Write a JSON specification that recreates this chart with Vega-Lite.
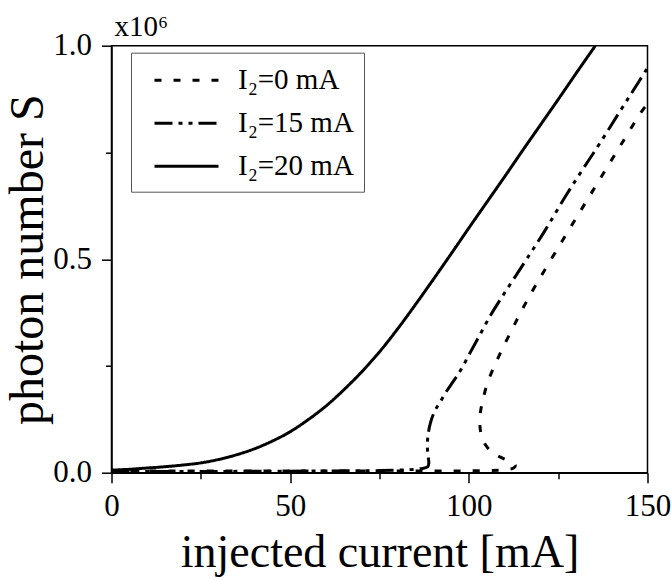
{
  "$schema": "https://vega.github.io/schema/vega-lite/v6.json",
  "width": 536,
  "height": 427,
  "autosize": {"type": "none"},
  "padding": {"left": 111.5, "top": 45.7, "right": 23.5, "bottom": 107.3},
  "background": "white",
  "title": {"text": "x10⁶", "anchor": "start", "frame": "group", "fontSize": 29, "font": "Liberation Serif", "fontWeight": "normal", "baseline": "alphabetic", "offset": -35, "color": "black", "dx": 3},
  "config": {"view": {"stroke": "black", "strokeWidth": 1.5}, "font": "Liberation Serif"},
  "data": {"values": [
    {"series": "I₂=0 mA", "i": 1, "current": 0, "S": 0.004},
    {"series": "I₂=0 mA", "i": 2, "current": 30, "S": 0.004},
    {"series": "I₂=0 mA", "i": 3, "current": 60, "S": 0.004},
    {"series": "I₂=0 mA", "i": 4, "current": 90, "S": 0.004},
    {"series": "I₂=0 mA", "i": 5, "current": 105, "S": 0.005},
    {"series": "I₂=0 mA", "i": 6, "current": 110, "S": 0.007},
    {"series": "I₂=0 mA", "i": 7, "current": 112.5, "S": 0.011},
    {"series": "I₂=0 mA", "i": 8, "current": 113, "S": 0.017},
    {"series": "I₂=0 mA", "i": 9, "current": 112, "S": 0.024},
    {"series": "I₂=0 mA", "i": 10, "current": 110, "S": 0.032},
    {"series": "I₂=0 mA", "i": 11, "current": 107.8, "S": 0.041},
    {"series": "I₂=0 mA", "i": 12, "current": 106, "S": 0.052},
    {"series": "I₂=0 mA", "i": 13, "current": 104.5, "S": 0.067},
    {"series": "I₂=0 mA", "i": 14, "current": 103.5, "S": 0.088},
    {"series": "I₂=0 mA", "i": 15, "current": 103.1, "S": 0.11},
    {"series": "I₂=0 mA", "i": 16, "current": 103.1, "S": 0.13},
    {"series": "I₂=0 mA", "i": 17, "current": 103.4, "S": 0.15},
    {"series": "I₂=0 mA", "i": 18, "current": 104, "S": 0.172},
    {"series": "I₂=0 mA", "i": 19, "current": 105, "S": 0.205},
    {"series": "I₂=0 mA", "i": 20, "current": 106.9, "S": 0.245},
    {"series": "I₂=0 mA", "i": 21, "current": 109.2, "S": 0.287},
    {"series": "I₂=0 mA", "i": 22, "current": 112, "S": 0.334},
    {"series": "I₂=0 mA", "i": 23, "current": 114.8, "S": 0.38},
    {"series": "I₂=0 mA", "i": 24, "current": 118.5, "S": 0.436},
    {"series": "I₂=0 mA", "i": 25, "current": 125, "S": 0.527},
    {"series": "I₂=0 mA", "i": 26, "current": 131.1, "S": 0.611},
    {"series": "I₂=0 mA", "i": 27, "current": 137, "S": 0.692},
    {"series": "I₂=0 mA", "i": 28, "current": 143, "S": 0.774},
    {"series": "I₂=0 mA", "i": 29, "current": 148.8, "S": 0.851},
    {"series": "I₂=0 mA", "i": 30, "current": 150, "S": 0.862},
    {"series": "I₂=15 mA", "i": 1, "current": 0, "S": 0.003},
    {"series": "I₂=15 mA", "i": 2, "current": 30, "S": 0.003},
    {"series": "I₂=15 mA", "i": 3, "current": 60, "S": 0.004},
    {"series": "I₂=15 mA", "i": 4, "current": 75, "S": 0.005},
    {"series": "I₂=15 mA", "i": 5, "current": 83, "S": 0.007},
    {"series": "I₂=15 mA", "i": 6, "current": 87, "S": 0.01},
    {"series": "I₂=15 mA", "i": 7, "current": 88.5, "S": 0.014},
    {"series": "I₂=15 mA", "i": 8, "current": 88.8, "S": 0.022},
    {"series": "I₂=15 mA", "i": 9, "current": 88.5, "S": 0.045},
    {"series": "I₂=15 mA", "i": 10, "current": 88.4, "S": 0.07},
    {"series": "I₂=15 mA", "i": 11, "current": 88.7, "S": 0.095},
    {"series": "I₂=15 mA", "i": 12, "current": 89.3, "S": 0.118},
    {"series": "I₂=15 mA", "i": 13, "current": 90.5, "S": 0.145},
    {"series": "I₂=15 mA", "i": 14, "current": 92, "S": 0.166},
    {"series": "I₂=15 mA", "i": 15, "current": 93.7, "S": 0.19},
    {"series": "I₂=15 mA", "i": 16, "current": 95.5, "S": 0.212},
    {"series": "I₂=15 mA", "i": 17, "current": 97.5, "S": 0.237},
    {"series": "I₂=15 mA", "i": 18, "current": 100.3, "S": 0.28},
    {"series": "I₂=15 mA", "i": 19, "current": 103.1, "S": 0.323},
    {"series": "I₂=15 mA", "i": 20, "current": 105.9, "S": 0.366},
    {"series": "I₂=15 mA", "i": 21, "current": 108.7, "S": 0.404},
    {"series": "I₂=15 mA", "i": 22, "current": 117.1, "S": 0.512},
    {"series": "I₂=15 mA", "i": 23, "current": 121.3, "S": 0.567},
    {"series": "I₂=15 mA", "i": 24, "current": 127.4, "S": 0.652},
    {"series": "I₂=15 mA", "i": 25, "current": 132, "S": 0.712},
    {"series": "I₂=15 mA", "i": 26, "current": 136.7, "S": 0.772},
    {"series": "I₂=15 mA", "i": 27, "current": 142.8, "S": 0.853},
    {"series": "I₂=15 mA", "i": 28, "current": 146, "S": 0.895},
    {"series": "I₂=15 mA", "i": 29, "current": 150, "S": 0.948},
    {"series": "I₂=20 mA", "i": 1, "current": 0, "S": 0.006},
    {"series": "I₂=20 mA", "i": 2, "current": 5, "S": 0.008},
    {"series": "I₂=20 mA", "i": 3, "current": 10, "S": 0.011},
    {"series": "I₂=20 mA", "i": 4, "current": 15, "S": 0.014},
    {"series": "I₂=20 mA", "i": 5, "current": 20, "S": 0.018},
    {"series": "I₂=20 mA", "i": 6, "current": 25, "S": 0.023},
    {"series": "I₂=20 mA", "i": 7, "current": 30, "S": 0.031},
    {"series": "I₂=20 mA", "i": 8, "current": 35, "S": 0.042},
    {"series": "I₂=20 mA", "i": 9, "current": 40, "S": 0.056},
    {"series": "I₂=20 mA", "i": 10, "current": 45, "S": 0.074},
    {"series": "I₂=20 mA", "i": 11, "current": 50, "S": 0.096},
    {"series": "I₂=20 mA", "i": 12, "current": 55, "S": 0.124},
    {"series": "I₂=20 mA", "i": 13, "current": 60, "S": 0.156},
    {"series": "I₂=20 mA", "i": 14, "current": 65, "S": 0.194},
    {"series": "I₂=20 mA", "i": 15, "current": 70, "S": 0.236},
    {"series": "I₂=20 mA", "i": 16, "current": 75, "S": 0.283},
    {"series": "I₂=20 mA", "i": 17, "current": 80, "S": 0.336},
    {"series": "I₂=20 mA", "i": 18, "current": 85, "S": 0.393},
    {"series": "I₂=20 mA", "i": 19, "current": 90, "S": 0.452},
    {"series": "I₂=20 mA", "i": 20, "current": 95, "S": 0.512},
    {"series": "I₂=20 mA", "i": 21, "current": 100, "S": 0.573},
    {"series": "I₂=20 mA", "i": 22, "current": 105, "S": 0.633},
    {"series": "I₂=20 mA", "i": 23, "current": 110, "S": 0.693},
    {"series": "I₂=20 mA", "i": 24, "current": 115, "S": 0.754},
    {"series": "I₂=20 mA", "i": 25, "current": 120, "S": 0.814},
    {"series": "I₂=20 mA", "i": 26, "current": 125, "S": 0.874},
    {"series": "I₂=20 mA", "i": 27, "current": 130, "S": 0.935},
    {"series": "I₂=20 mA", "i": 28, "current": 135.4, "S": 1.0}
  ]},
  "mark": {"type": "line", "interpolate": "catmull-rom", "strokeWidth": 3, "color": "black", "clip": true},
  "encoding": {
    "x": {
      "field": "current", "type": "quantitative",
      "scale": {"domain": [0, 150], "nice": false, "zero": false},
      "title": "injected current [mA]",
      "axis": {
        "values": [0, 25, 50, 75, 100, 125, 150],
        "labelExpr": "datum.value % 50 === 0 ? datum.label : ''",
        "tickSize": {"condition": {"test": "datum.value % 50 === 0", "value": 10}, "value": 6},
        "grid": false, "domainColor": "black", "domainWidth": 1.5,
        "tickColor": "black", "tickWidth": 1.5,
        "labelFont": "Liberation Serif", "labelFontSize": 31, "labelColor": "black",
        "labelPadding": 9, "labelFlush": false, "labelOverlap": false,
        "titleFont": "Liberation Serif", "titleFontSize": 46, "titleFontWeight": "normal",
        "titleColor": "black", "titlePadding": 9
      }
    },
    "y": {
      "field": "S", "type": "quantitative",
      "scale": {"domain": [0, 1], "nice": false, "zero": false},
      "title": "photon number S",
      "axis": {
        "values": [0, 0.25, 0.5, 0.75, 1],
        "format": ".1f",
        "labelExpr": "(datum.value === 0.25 || datum.value === 0.75) ? '' : datum.label",
        "tickSize": {"condition": {"test": "datum.value === 0.25 || datum.value === 0.75", "value": 6}, "value": 10},
        "grid": false, "domainColor": "black", "domainWidth": 1.5,
        "tickColor": "black", "tickWidth": 1.5,
        "labelFont": "Liberation Serif", "labelFontSize": 31, "labelColor": "black",
        "labelPadding": 10, "labelFlush": false, "labelOverlap": false,
        "titleFont": "Liberation Serif", "titleFontSize": 48, "titleFontWeight": "normal",
        "titleColor": "black", "titlePadding": 0
      }
    },
    "strokeDash": {
      "field": "series", "type": "nominal",
      "scale": {"domain": ["I₂=0 mA", "I₂=15 mA", "I₂=20 mA"], "range": [[7, 12], [18, 6, 4, 6, 4, 6], [1, 0]]},
      "legend": {
        "title": null, "orient": "none", "legendX": 19.5, "legendY": 7,
        "strokeColor": "#555555", "fillColor": "white", "padding": 10,
        "symbolType": "M-0.25,0H3.75", "symbolSize": 1024, "symbolStrokeWidth": 3, "symbolStrokeColor": "black",
        "labelFont": "Liberation Serif", "labelFontSize": 29, "labelColor": "black",
        "labelOffset": 62, "rowPadding": 10
      }
    },
    "order": {"field": "i", "type": "quantitative"}
  }
}
